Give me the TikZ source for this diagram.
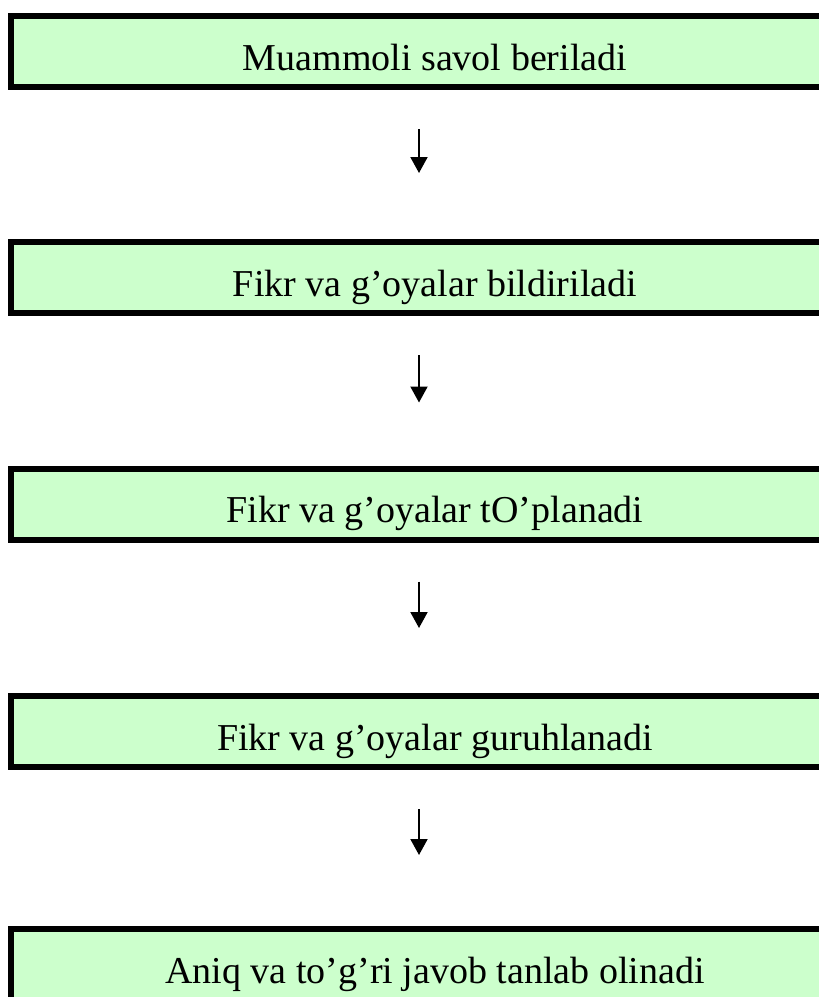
\documentclass[tikz,border=0pt]{standalone}
\usepackage{fontspec}
\setmainfont{Liberation Serif}
\usetikzlibrary{arrows.meta}
\definecolor{boxgreen}{HTML}{CCFFCC}
\tikzset{
  stepbox/.style={draw=black, fill=boxgreen, line width=6pt, inner sep=0pt,
    minimum width=848pt, minimum height=71pt, text height=37pt, text depth=0pt,
    font=\fontsize{38}{44}\selectfont},
  flowarrow/.style={line width=2pt, -{Triangle[length=16pt,width=17pt]}}
}
\begin{document}
\begin{tikzpicture}[x=1pt,y=-1pt]
\path[use as bounding box, clip] (0,0) rectangle (819,997);
\node[stepbox] (box1) at (435,51.5) {Muammoli savol beriladi};
\node[stepbox] (box2) at (435,277.5) {Fikr va g’oyalar bildiriladi};
\node[stepbox] (box3) at (435,504) {Fikr va g’oyalar tO’planadi};
\node[stepbox] (box4) at (435,731.5) {Fikr va g’oyalar guruhlanadi};
\node[stepbox] (box5) at (435,964.5) {Aniq va to’g’ri javob tanlab olinadi};
\foreach \a/\b/\e in {box1/box2/66, box2/box3/63, box3/box4/65, box4/box5/71}
  \draw[flowarrow] ([shift={(-16,39)}]\a.south) -- ([shift={(-16,-\e)}]\b.north);
\end{tikzpicture}
\end{document}
